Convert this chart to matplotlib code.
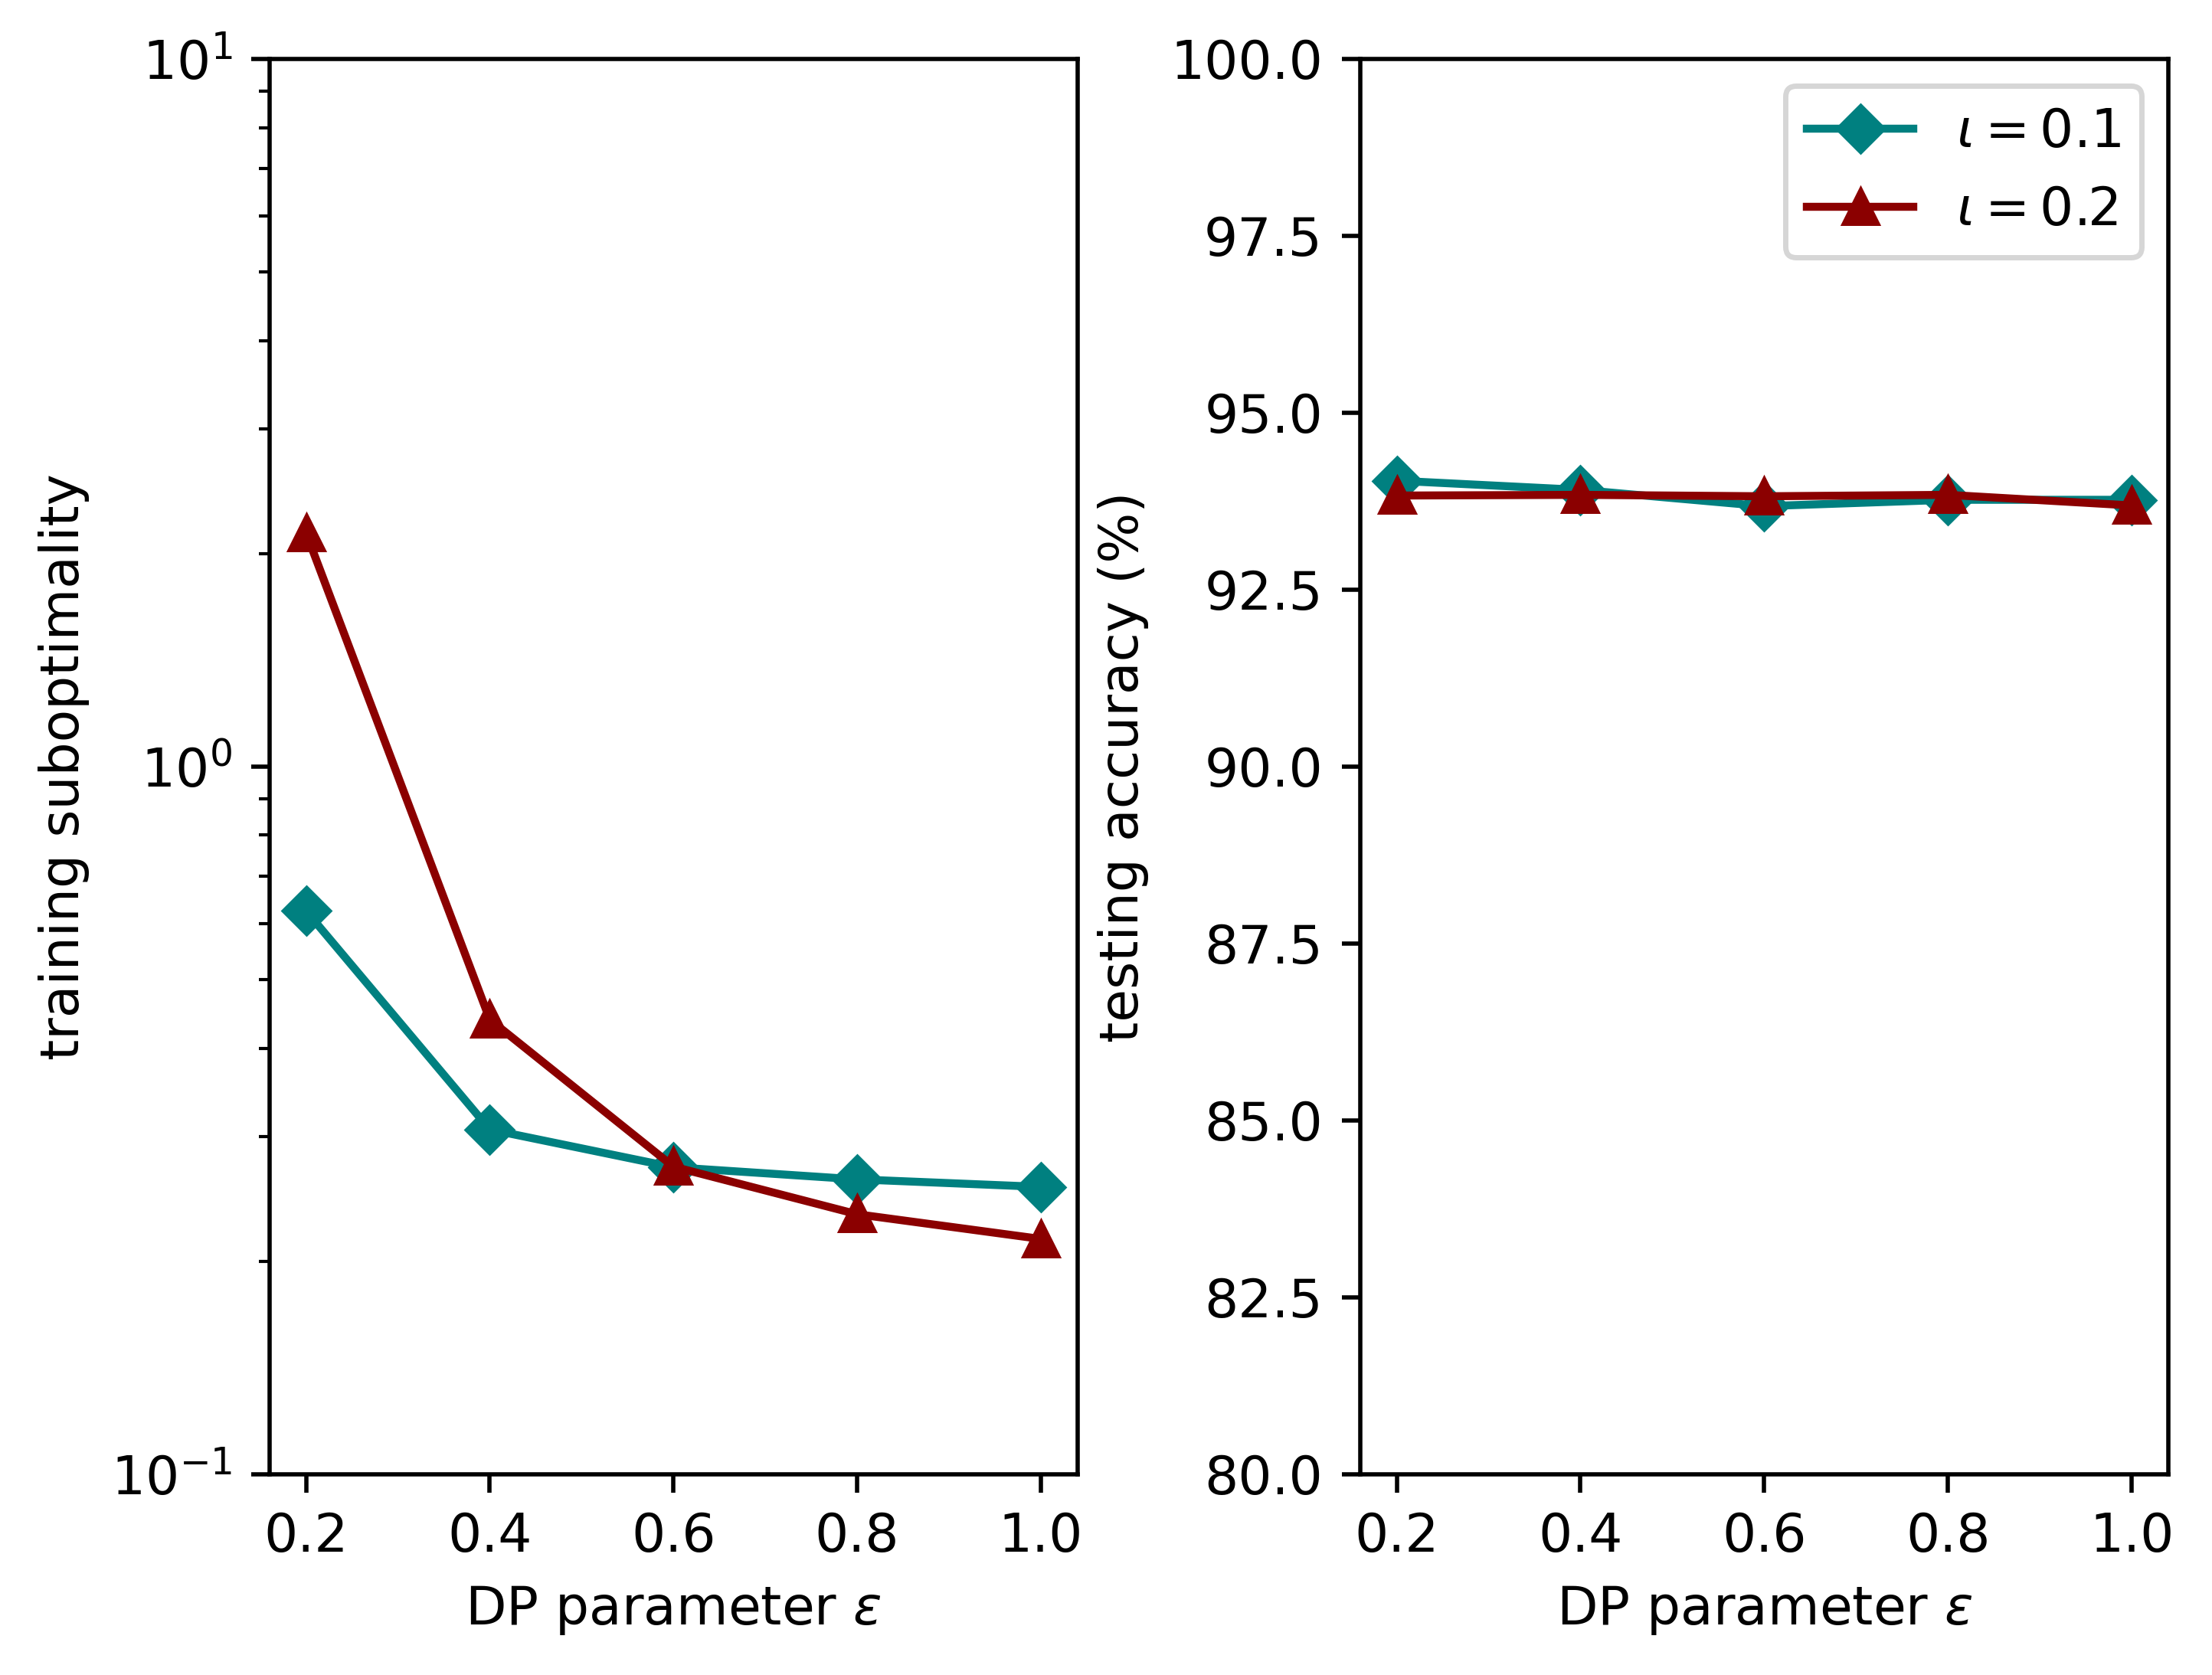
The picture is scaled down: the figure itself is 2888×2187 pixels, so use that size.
import matplotlib
matplotlib.use("Agg")
import matplotlib.pyplot as plt

eps = [0.2, 0.4, 0.6, 0.8, 1.0]

# training suboptimality (log scale)
subopt_01 = [0.625, 0.307, 0.2715, 0.261, 0.2547]
subopt_02 = [2.138, 0.439, 0.272, 0.233, 0.215]

# testing accuracy (%)
acc_01 = [94.04, 93.91, 93.68, 93.77, 93.77]
acc_02 = [93.83, 93.84, 93.82, 93.84, 93.69]

labels = [r'$\iota=0.1$', r'$\iota=0.2$']
colors = ['teal', 'darkred']
markers = ['D', '^']

fig = plt.figure(figsize=(2888 / 500, 2187 / 500), dpi=500)
ax1 = fig.add_axes([0.1218, 0.1199, 0.3653, 0.8449])
ax2 = fig.add_axes([0.6148, 0.1199, 0.3655, 0.8449])

ax1.plot(eps, subopt_01, color=colors[0], marker=markers[0], label=labels[0])
ax1.plot(eps, subopt_02, color=colors[1], marker=markers[1], label=labels[1])
ax1.set_yscale('log')
ax1.set_ylim(0.1, 10)
ax1.set_xticks(eps)
ax1.set_xlabel(r'DP parameter $\epsilon$')
ax1.set_ylabel('training suboptimality')

ax2.plot(eps, acc_01, color=colors[0], marker=markers[0], label=labels[0])
ax2.plot(eps, acc_02, color=colors[1], marker=markers[1], label=labels[1])
ax2.set_ylim(80, 100)
ax2.set_xticks(eps)
ax2.set_xlabel(r'DP parameter $\epsilon$')
ax2.set_ylabel('testing accuracy (%)')
ax2.legend(loc='upper right')

fig.savefig('out.png', dpi=500)
